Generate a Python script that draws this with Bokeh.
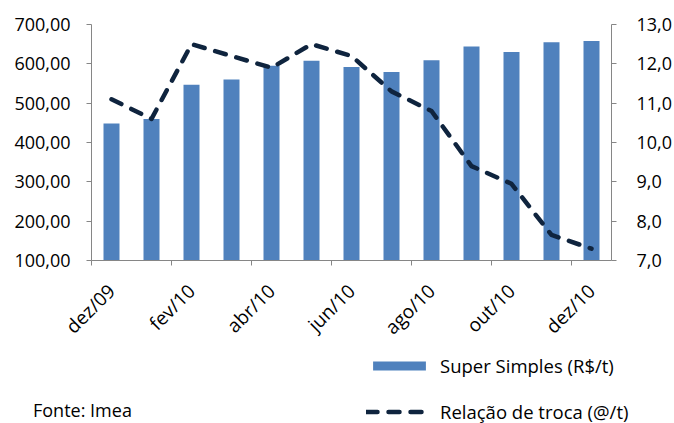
from bokeh.plotting import figure
from bokeh.layouts import column
from bokeh.models import (Range1d, LinearAxis, FixedTicker, Legend, LegendItem)
from bokeh.embed import file_html
from bokeh.resources import INLINE
import math

# ---- data ----
months = ["dez/09", "jan/10", "fev/10", "mar/10", "abr/10", "mai/10", "jun/10",
          "jul/10", "ago/10", "set/10", "out/10", "nov/10", "dez/10"]
super_simples = [448, 460, 547, 560, 595, 608, 592, 579, 609, 644, 630, 655, 658]
relacao_troca = [11.1, 10.6, 12.5, 12.2, 11.9, 12.5, 12.2, 11.3, 10.8, 9.4, 8.95, 7.65, 7.3]
left_ticks = [100, 200, 300, 400, 500, 600, 700]
left_labels = ["100,00", "200,00", "300,00", "400,00", "500,00", "600,00", "700,00"]
right_ticks = [7, 8, 9, 10, 11, 12, 13]
right_labels = ["7,0", "8,0", "9,0", "10,0", "11,0", "12,0", "13,0"]
series_names = ["Super Simples (R$/t)", "Relação de troca (@/t)"]
source_note = "Fonte: Imea"
label_step = 2

FONT = "Open Sans"
AXIS_COLOR = "#868686"
BAR_COLOR = "#4F81BD"
LINE_COLOR = "#0F243E"
BAR_STYLE = dict(fill_color=BAR_COLOR, line_color=None)
LINE_STYLE = dict(line_color=LINE_COLOR, line_width=4.5, line_dash="11 11",
                  line_cap="round", line_join="round")

xs = list(range(len(months)))

p = figure(frame_width=520, frame_height=236, output_backend="svg", toolbar_location=None,
           x_range=Range1d(-0.5, len(months) - 0.5), y_range=Range1d(100, 700),
           min_border_left=91, min_border_right=63, min_border_top=24, min_border_bottom=85)
p.outline_line_color = None
p.xgrid.visible = False
p.ygrid.visible = False

p.extra_y_ranges = {"right": Range1d(7, 13)}

p.vbar(x=xs, top=super_simples, bottom=0, width=0.4, **BAR_STYLE)
p.line(x=xs, y=relacao_troca, y_range_name="right", **LINE_STYLE)

# x axis
xa = p.xaxis[0]
xa.ticker = FixedTicker(ticks=xs[::label_step],
                        minor_ticks=[i - 0.5 for i in xs[::label_step]])
xa.major_label_overrides = {i: months[i] for i in xs[::label_step]}
xa.major_label_orientation = math.pi / 4
xa.major_tick_out = 0
xa.major_tick_in = 0
xa.minor_tick_out = 5
xa.minor_tick_in = 0
xa.minor_tick_line_color = AXIS_COLOR
xa.axis_line_color = AXIS_COLOR
xa.major_label_standoff = 22
xa.major_label_text_font = FONT
xa.major_label_text_font_size = "19px"
xa.major_label_text_color = "#000000"

# left axis
ya = p.yaxis[0]
ya.ticker = FixedTicker(ticks=left_ticks)
ya.major_label_overrides = dict(zip(left_ticks, left_labels))
ya.minor_tick_out = 0
ya.minor_tick_in = 0
ya.major_tick_in = 0
ya.major_tick_out = 5
ya.major_tick_line_color = AXIS_COLOR
ya.axis_line_color = AXIS_COLOR
ya.major_label_standoff = 16
ya.major_label_text_font = FONT
ya.major_label_text_font_size = "18px"
ya.major_label_text_color = "#000000"

# right axis
ra = LinearAxis(y_range_name="right", ticker=FixedTicker(ticks=right_ticks))
ra.major_label_overrides = dict(zip(right_ticks, right_labels))
ra.minor_tick_out = 0
ra.minor_tick_in = 0
ra.major_tick_in = 0
ra.major_tick_out = 5
ra.major_tick_line_color = AXIS_COLOR
ra.axis_line_color = AXIS_COLOR
ra.major_label_standoff = 20
ra.major_label_text_font = FONT
ra.major_label_text_font_size = "18px"
ra.major_label_text_color = "#000000"
p.add_layout(ra, "right")

# ---- bottom strip: legend + source note ----
W, H2 = 674, 80
p2 = figure(frame_width=W, frame_height=H2, output_backend="svg", toolbar_location=None,
            x_range=Range1d(0, W), y_range=Range1d(0, H2),
            x_axis_location=None, y_axis_location=None,
            min_border_left=0, min_border_right=0, min_border_top=0, min_border_bottom=0)
p2.grid.visible = False
p2.outline_line_color = None

nan = float("nan")
r_bar = p2.vbar(x=[nan], top=[nan], width=1, **BAR_STYLE)
r_line = p2.line(x=[nan], y=[nan], **LINE_STYLE)
r_none = p2.line(x=[nan], y=[nan], line_alpha=0)

legend = Legend(items=[LegendItem(label=series_names[0], renderers=[r_bar]),
                       LegendItem(label=series_names[1], renderers=[r_line])],
                location=(366, 8), orientation="vertical",
                glyph_width=66, glyph_height=11, label_standoff=8, spacing=21,
                padding=0, margin=0, border_line_color=None, background_fill_alpha=0,
                label_text_font=FONT, label_text_font_size="18.5px",
                label_text_color="#000000", label_height=20)
p2.add_layout(legend, "center")

note = Legend(items=[LegendItem(label=source_note, renderers=[r_none])],
              location=(33, 10), orientation="vertical",
              glyph_width=0, glyph_height=11, label_standoff=0,
              padding=0, margin=0, border_line_color=None, background_fill_alpha=0,
              label_text_font=FONT, label_text_font_size="18px",
              label_text_color="#000000", label_height=20)
p2.add_layout(note, "center")

layout = column(p, p2, spacing=0)
open("out.html", "w").write(file_html(layout, INLINE))
